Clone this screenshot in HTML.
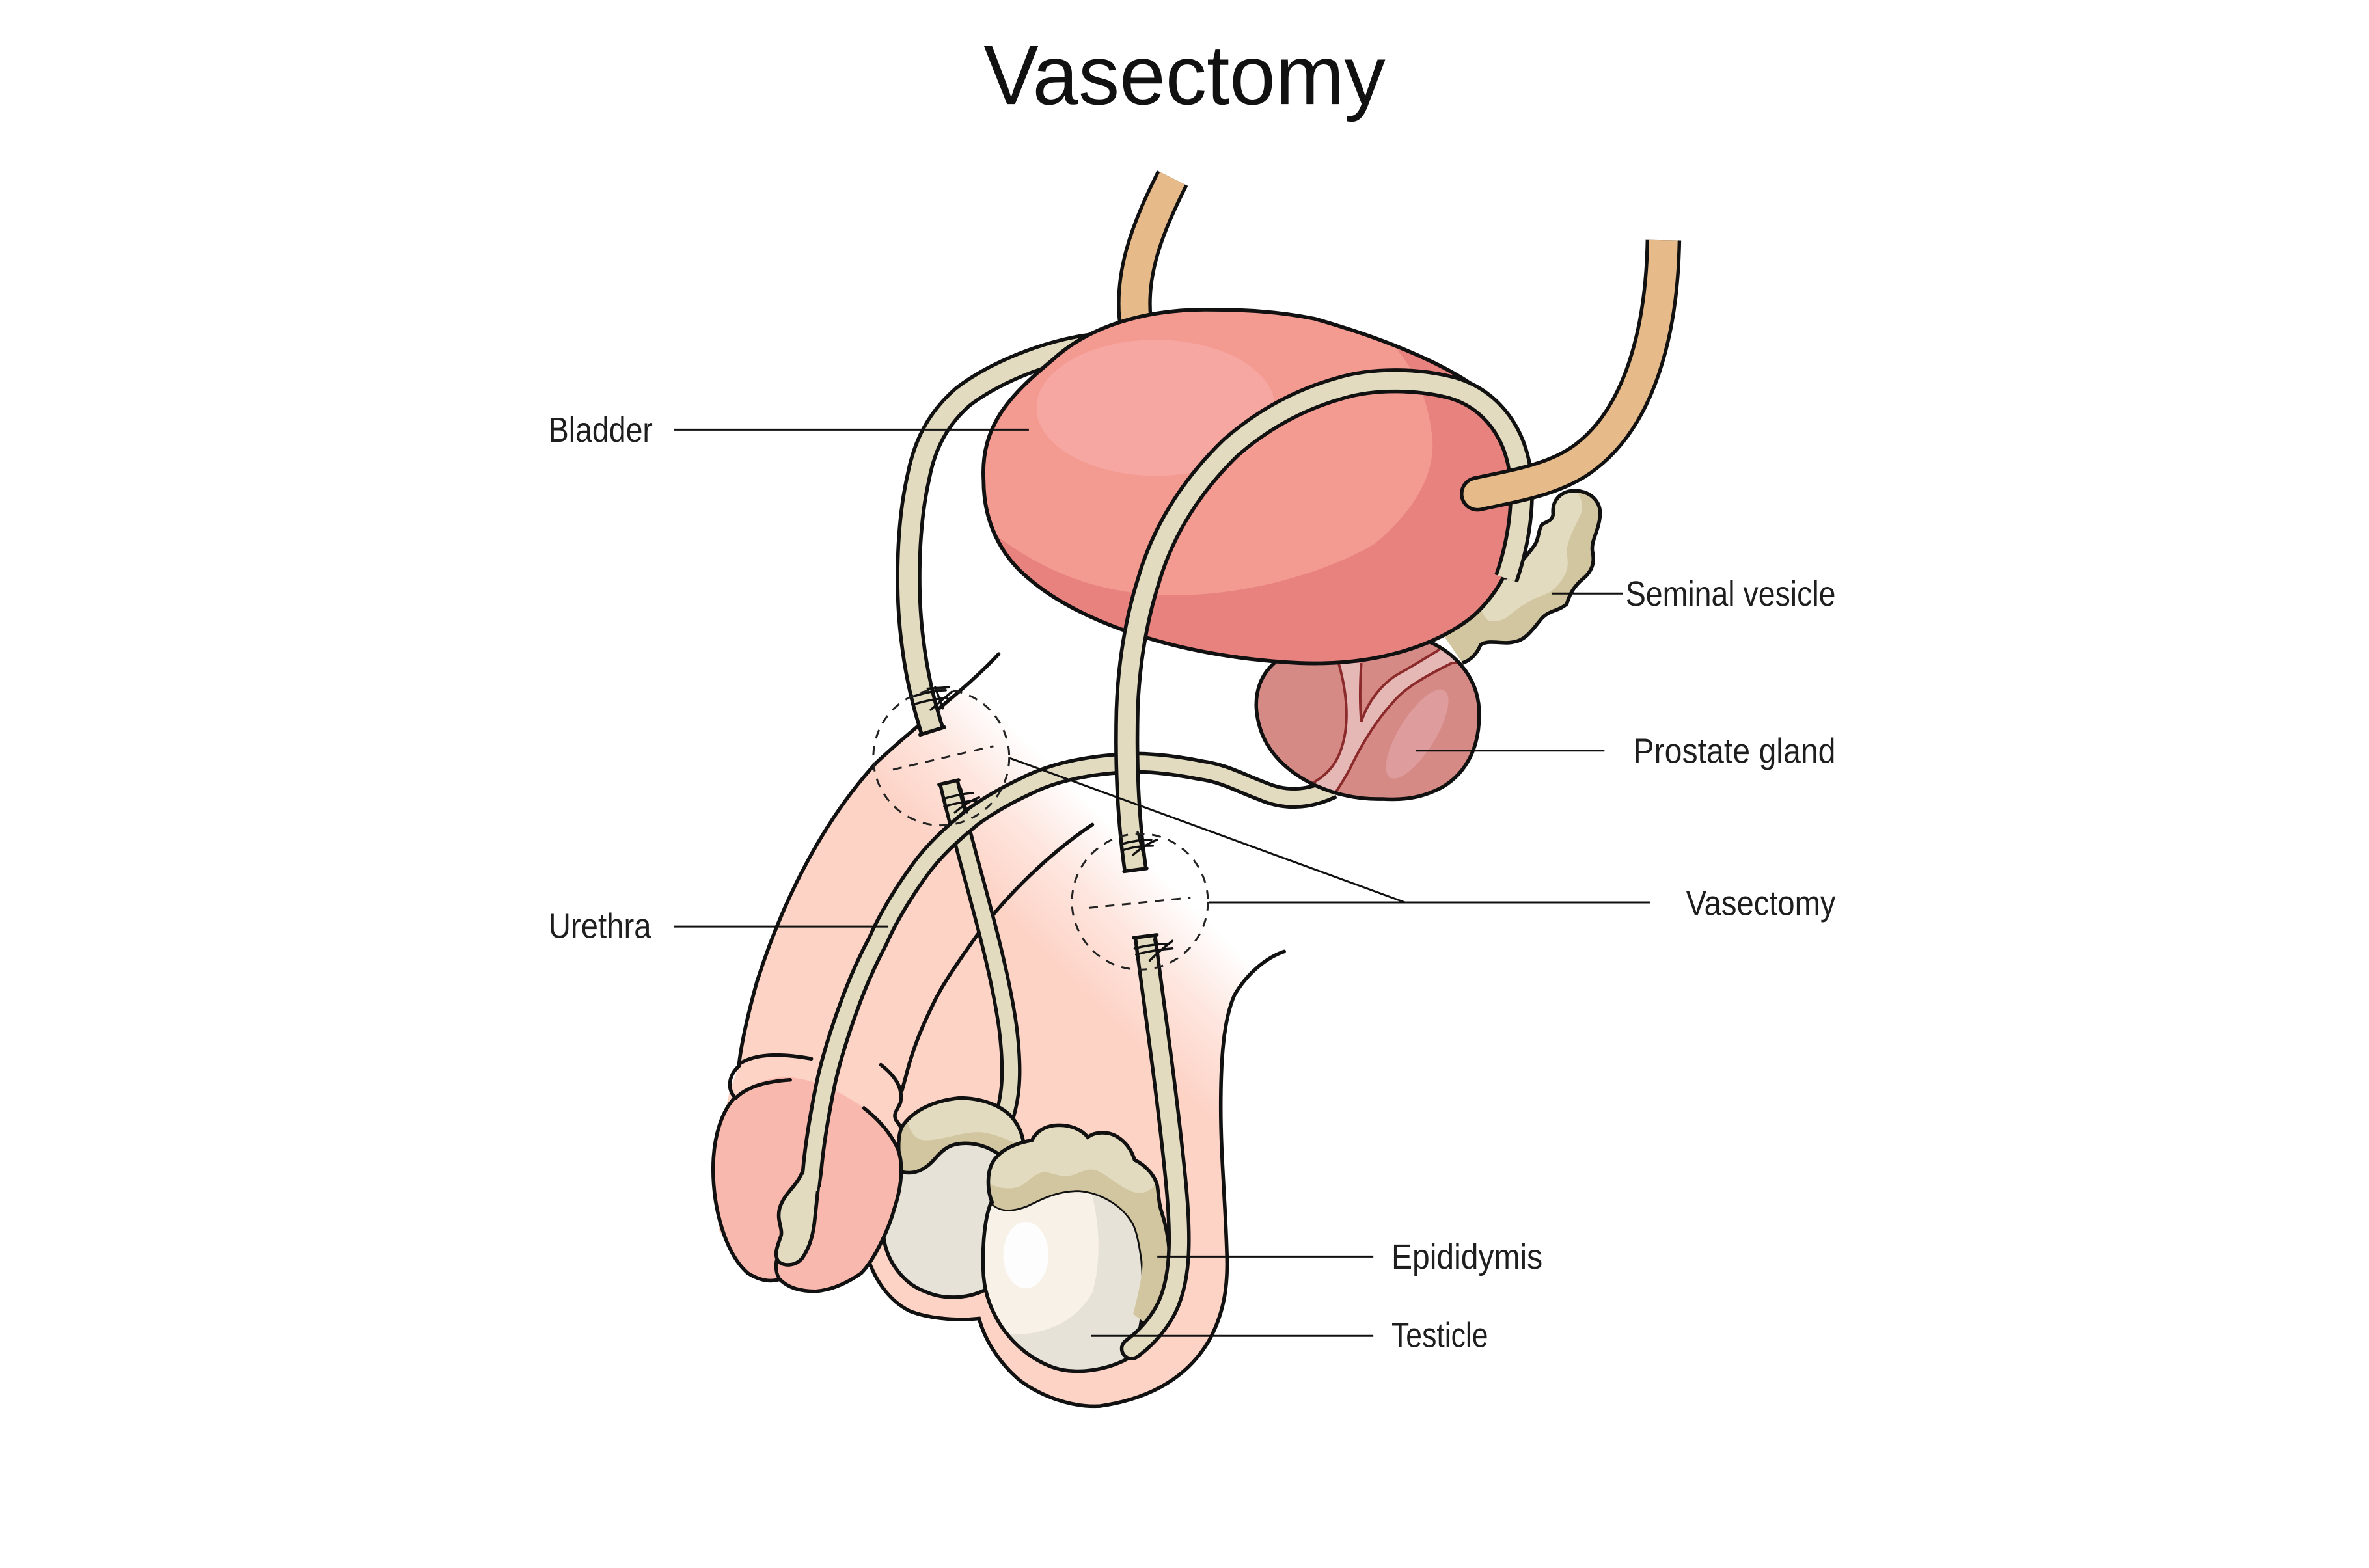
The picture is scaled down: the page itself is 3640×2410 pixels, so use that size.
<!DOCTYPE html>
<html><head><meta charset="utf-8"><style>html,body{margin:0;padding:0;background:#fff}svg{display:block}</style></head>
<body>
<svg xmlns="http://www.w3.org/2000/svg" width="3640" height="2410" viewBox="0 0 1568 1038.2">
<defs>
<linearGradient id="skin" gradientUnits="userSpaceOnUse" x1="700" y1="640" x2="765" y2="575">
<stop offset="0" stop-color="#fdd3c6"/><stop offset="0.55" stop-color="#fdd3c6" stop-opacity="0.55"/><stop offset="1" stop-color="#fdd3c6" stop-opacity="0"/>
</linearGradient>
<clipPath id="bc"><path d="M798,205 C760,205 722,215 697,238 C668,262 649,282 651,318 C651,345 662,368 682,384 C715,412 780,435 860,439 C910,441 950,428 975,408 C995,390 1006,365 1007,335 C1008,305 1002,283 988,267 C975,250 930,228 870,211 C845,206 822,205 798,205 Z"/></clipPath>
<clipPath id="pc"><path d="M941,423 C962,430 978,448 979,470 C980,495 970,512 955,521 C942,528 930,530 915,529 C880,530 845,512 835,485 C826,460 835,440 855,432 C880,422 920,416 941,423 Z"/></clipPath>
<clipPath id="vc"><path d="M996,383 C1005,375 1012,366 1015,362 C1019,357 1018,350 1021,347 C1025,345 1028,344 1028,340 C1027,330 1035,324 1044,325 C1054,326 1060,333 1059,342 C1058,352 1053,358 1054,365 C1056,373 1053,379 1048,383 C1042,388 1039,393 1037,400 C1031,405 1025,404 1020,410 C1015,416 1010,424 1002,425 C995,427 985,423 980,427 C978,432 974,437 968,439 L955,420 L975,395 Z"/></clipPath>
<clipPath id="rtc"><path d="M656,796 C651,808 650,830 651,845 C653,870 670,895 696,905 C712,911 735,907 749,898 C757,880 758,856 756,834 C754,820 752,812 749,808 C742,797 728,789 714,788 C700,788 690,793 680,798 C670,802 662,802 656,796 Z"/></clipPath>
<clipPath id="rec"><path d="M657,797 C653,788 653,775 658,768 C663,761 672,757 683,755 C686,749 692,745 701,745 C709,745 716,748 720,753 C725,749 734,749 740,753 C746,757 749,762 751,768 C757,771 764,777 766,785 C767,792 767,797 769,803 C773,815 775,830 774,845 C773,858 768,868 758,876 L750,870 C754,855 757,840 756,834 C754,820 752,812 749,808 C742,797 728,789 714,788 C700,788 690,793 680,798 C670,802 662,802 657,797 Z"/></clipPath>
<clipPath id="lec"><path d="M597,776 C594,765 594,752 597,746 C603,737 615,729 635,727 C650,727 663,732 670,740 C675,746 677,752 678,760 L668,770 C660,762 650,757 639,757 C630,757 625,760 619,767 C613,774 606,778 597,776 Z"/></clipPath>
</defs>

<text x="651" y="69" font-family="Liberation Sans, sans-serif" font-size="56" fill="#111" textLength="266" lengthAdjust="spacingAndGlyphs">Vasectomy</text>

<path d="M776,118 C760,150 745,185 753,222" fill="none" stroke="#111" stroke-width="23"/>
<path d="M776,118 C760,150 745,185 753,222" fill="none" stroke="#e6bb89" stroke-width="18.4"/>

<path d="M661,433 C640,456 610,477 580,505 C548,540 520,590 501,650 C494,675 490,695 489,706 L483,722 L472,775 L476,815 L495,843 L540,856 L575,830 C580,850 590,862 602,868 C615,873 632,875 648,873 C652,888 662,903 675,914 C690,925 710,932 728,931 C770,925 790,905 800,888 C810,870 813,852 812,829 C811,795 808,765 808,733 C808,700 810,675 817,659 C825,645 838,634 850,630 L880,610 L700,410 Z" fill="url(#skin)"/>
<g fill="none" stroke="#111" stroke-width="2.4" stroke-linecap="round">
<path d="M661,433 C640,456 610,477 580,505 C548,540 520,590 501,650 C494,675 490,695 489,706"/>
<path d="M490,704 C500,698 515,697 537,701"/>
<path d="M489,706 C482,712 481,722 487,727"/>
<path d="M850,630 C838,634 825,645 817,659 C810,675 808,700 808,733 C808,765 811,795 812,829 C813,852 810,870 800,888 C790,905 770,925 728,931 C710,932 690,925 675,914 C662,903 652,888 648,873 C630,875 612,872 602,868 C590,862 580,850 574,832"/>
<path d="M723,546 C690,568 660,600 644,623 C632,640 624,652 619,662 C610,680 604,695 600,711 L597,722"/>
<path d="M583,705 C592,712 598,720 596,730 C594,735 590,738 594,743 C598,748 598,752 597,756"/>
</g>

<g clip-path="url(#vc)">
<rect x="940" y="310" width="130" height="140" fill="#d2c6a1"/>
<path d="M1044,326 C1048,332 1048,337 1046,341 C1042,350 1037,358 1037,366 C1038,372 1038,376 1036,380 C1033,386 1030,389 1026,392 C1020,395 1015,396 1011,399 C1005,402 1001,406 997,409 C992,412 986,412 984,410 C980,405 979,400 980,399 L960,380 L1030,310 Z" fill="#e2dbbf"/>
</g>
<path d="M996,383 C1005,375 1012,366 1015,362 C1019,357 1018,350 1021,347 C1025,345 1028,344 1028,340 C1027,330 1035,324 1044,325 C1054,326 1060,333 1059,342 C1058,352 1053,358 1054,365 C1056,373 1053,379 1048,383 C1042,388 1039,393 1037,400 C1031,405 1025,404 1020,410 C1015,416 1010,424 1002,425 C995,427 985,423 980,427 C978,432 974,437 968,439" fill="none" stroke="#111" stroke-width="2.4"/>

<path d="M730,228 C700,230 660,245 637,263 C620,278 612,295 608,315 C600,350 600,395 604,425 C607,450 612,468 617,484" fill="none" stroke="#111" stroke-width="17"/>
<path d="M730,228 C700,230 660,245 637,263 C620,278 612,295 608,315 C600,350 600,395 604,425 C607,450 612,468 617,484" fill="none" stroke="#e2dbbf" stroke-width="12.2"/>
<path d="M609,486.5 L625,481.5" stroke="#111" stroke-width="2.4" stroke-linecap="round"/>

<path d="M628,518 C640,570 660,630 667,680 C671,712 669,728 663,745" fill="none" stroke="#111" stroke-width="14"/>
<path d="M628,518 C640,570 660,630 667,680 C671,712 669,728 663,745" fill="none" stroke="#e2dbbf" stroke-width="9.4"/>
<path d="M621.5,519.5 L634.5,516.5" stroke="#111" stroke-width="2.4" stroke-linecap="round"/>

<path d="M597,776 C590,790 584,808 585,820 C587,835 598,850 612,855 C625,861 642,860 654,853 L672,765 L650,745 L610,752 Z" fill="#e6e2d7"/>
<path d="M597,776 C590,790 584,808 585,820 C587,835 598,850 612,855 C625,861 642,860 654,853" fill="none" stroke="#111" stroke-width="2.4"/>
<g clip-path="url(#lec)">
<rect x="590" y="720" width="95" height="60" fill="#d2c6a1"/>
<path d="M600,740 C602,750 606,755 613,755 C625,755 640,748 652,750 C662,752 670,756 680,760 L680,715 L590,715 Z" fill="#e2dbbf"/>
</g>
<path d="M597,776 C594,765 594,752 597,746 C603,737 615,729 635,727 C650,727 663,732 670,740 C675,746 677,752 678,760 M668,770 C660,762 650,757 639,757 C630,757 625,760 619,767 C613,774 606,778 597,776" fill="none" stroke="#111" stroke-width="2.4"/>

<g clip-path="url(#rtc)">
<rect x="640" y="780" width="130" height="140" fill="#e6e2d7"/>
<path d="M640,780 L722,788 C728,810 729,835 723,856 C716,868 705,877 690,881 C680,884 670,884 660,882 L640,880 Z" fill="#f8f1e7"/>
<ellipse cx="679" cy="831" rx="15" ry="22" fill="#fdfdfd"/>
</g>
<path d="M656,796 C651,808 650,830 651,845 C653,870 670,895 696,905 C712,911 735,907 749,898 C757,880 758,856 756,834 C754,820 752,812 749,808 C742,797 728,789 714,788 C700,788 690,793 680,798 C670,802 662,802 656,796 Z" fill="none" stroke="#111" stroke-width="2.4"/>
<g clip-path="url(#rec)">
<rect x="645" y="740" width="135" height="140" fill="#d2c6a1"/>
<path d="M655,784 C662,787 670,788 676,785 C682,781 686,776 692,776 C698,777 703,780 710,778 C716,776 720,773 726,775 C735,779 745,790 755,790 C762,789 766,784 766,780 L768,735 L645,735 Z" fill="#e2dbbf"/>
</g>
<path d="M657,797 C653,788 653,775 658,768 C663,761 672,757 683,755 C686,749 692,745 701,745 C709,745 716,748 720,753 C725,749 734,749 740,753 C746,757 749,762 751,768 C757,771 764,777 766,785 C767,792 767,797 769,803 C773,815 775,830 774,845 C773,858 768,868 758,876" fill="none" stroke="#111" stroke-width="2.4"/>

<path d="M487,726 C478,735 472,752 472,774 C472,800 480,830 495,843 C503,848 510,849 516,847 C522,853 530,855 540,855 C552,854 563,848 570,843 C578,835 588,815 592,800 C597,785 598,770 594,760 C588,748 580,740 571,733 C555,722 540,715 521,713 C505,714 495,719 487,726 Z" fill="#f9b8ad"/>
<path d="M487,726 C478,735 472,752 472,774 C472,800 480,830 495,843 C503,848 510,849 516,847 C522,853 530,855 540,855 C552,854 563,848 570,843 C578,835 588,815 592,800 C597,785 598,770 594,760 C588,748 580,740 571,733" fill="none" stroke="#111" stroke-width="2.4"/>
<path d="M487,727 C495,719 508,716 523,715" fill="none" stroke="#111" stroke-width="2.4" stroke-linecap="round"/>
<path d="M514,834 C513,840 514,844 516,847" fill="none" stroke="#111" stroke-width="2.2"/>

<path d="M882,522 C865,530 850,530 836,524 C820,518 810,512 795,510 C780,507 765,505 750,505 C725,506 700,510 680,520 C665,527 655,533 645,540 C630,552 618,563 608,577 C598,591 588,607 581,623 C573,638 567,652 562,666 C555,685 549,705 546,720 C542,740 539,758 537.5,775 L536,785" fill="none" stroke="#111" stroke-width="14.5"/>
<path d="M531,776 C527,786 519,790 516,800 C514,808 518,813 517,818 C515,824 512,830 515,835 C519,839 527,838 531,833 C536,826 538,818 539,810 C540,800 541,792 542,782 Z" fill="#e2dbbf" stroke="#111" stroke-width="2.4"/>
<path d="M882,522 C865,530 850,530 836,524 C820,518 810,512 795,510 C780,507 765,505 750,505 C725,506 700,510 680,520 C665,527 655,533 645,540 C630,552 618,563 608,577 C598,591 588,607 581,623 C573,638 567,652 562,666 C555,685 549,705 546,720 C542,740 539,758 537.5,775 L536,788" fill="none" stroke="#e2dbbf" stroke-width="9.7"/>

<g clip-path="url(#pc)">
<rect x="820" y="410" width="170" height="130" fill="#d58a86"/>
<ellipse cx="938" cy="486" rx="12" ry="34" transform="rotate(32 938 486)" fill="#de9c9c"/>
<path d="M886,439 C892,460 893,480 888,495 C884,508 876,515 866,520 L883,526 C886,522 889,517 893,510 C900,495 910,478 922,465 C930,455 945,447 961,439 L967,439 L953,430 C946,434 937,440 926,446 C915,452 905,465 901,478 C900,467 900,455 901,439 Z" fill="#e5b8b6"/>
<g fill="none" stroke="#8b2a2a" stroke-width="1.7">
<path d="M886,439 C892,460 893,480 888,495 C884,508 876,515 866,520"/>
<path d="M967,439 L961,439 C945,447 930,455 922,465 C910,478 900,495 893,510 C889,517 886,522 883,526"/>
<path d="M901,439 C900,455 900,467 901,478 C905,465 915,452 926,446 C937,440 946,434 953,430"/>
</g>
</g>
<path d="M941,423 C962,430 978,448 979,470 C980,495 970,512 955,521 C942,528 930,530 915,529 C880,530 845,512 835,485 C826,460 835,440 855,432 C880,422 920,416 941,423 Z" fill="none" stroke="#111" stroke-width="2.4"/>

<g clip-path="url(#bc)">
<rect x="640" y="195" width="380" height="260" fill="#f39a91"/>
<ellipse cx="765" cy="270" rx="79" ry="45" fill="#f7a7a2"/>
<path d="M660,355 C700,385 740,395 783,394 C830,393 880,378 910,360 C940,335 950,310 948,290 C946,270 940,250 925,232 L1030,220 L1030,470 L640,470 Z" fill="#e8827f"/>
</g>
<path d="M798,205 C760,205 722,215 697,238 C668,262 649,282 651,318 C651,345 662,368 682,384 C715,412 780,435 860,439 C910,441 950,428 975,408 C995,390 1006,365 1007,335 C1008,305 1002,283 988,267 C975,250 930,228 870,211 C845,206 822,205 798,205 Z" fill="none" stroke="#111" stroke-width="2.5"/>

<path d="M997,383 C1005,360 1010,330 1005,306 C1000,283 985,264 962,257 C940,251 910,250 887,257 C862,264 838,276 815,296 C790,320 770,350 760,385 C752,410 747,440 746,470 C745,510 747,545 751.5,576" fill="none" stroke="#111" stroke-width="16.5"/>
<path d="M997,383 C1005,360 1010,330 1005,306 C1000,283 985,264 962,257 C940,251 910,250 887,257 C862,264 838,276 815,296 C790,320 770,350 760,385 C752,410 747,440 746,470 C745,510 747,545 751.5,576" fill="none" stroke="#e2dbbf" stroke-width="11.7"/>
<path d="M744,577 L759,575" stroke="#111" stroke-width="2.4" stroke-linecap="round"/>

<path d="M1101,159 C1100,220 1085,275 1050,302 C1030,318 1000,322 978,327" fill="none" stroke="#111" stroke-width="23.5"/>
<circle cx="978" cy="327" r="11.75" fill="#111"/>
<path d="M1101,159 C1100,220 1085,275 1050,302 C1030,318 1000,322 978,327" fill="none" stroke="#e6bb89" stroke-width="18.8"/>
<circle cx="978" cy="327" r="9.4" fill="#e6bb89"/>

<path d="M758,620 C763,660 772,720 778,780 C782,820 782,850 770,870 C764,880 756,888 749,893" fill="none" stroke="#111" stroke-width="15.5"/>
<circle cx="749" cy="893" r="7.75" fill="#111"/>
<path d="M758,620 C763,660 772,720 778,780 C782,820 782,850 770,870 C764,880 756,888 749,893" fill="none" stroke="#e2dbbf" stroke-width="10.8"/>
<circle cx="749" cy="893" r="5.4" fill="#e2dbbf"/>
<path d="M750.3,621 L765.7,619" stroke="#111" stroke-width="2.4" stroke-linecap="round"/>

<g fill="none" stroke="#111" stroke-width="1.5" stroke-linecap="round">
<path d="M605,461 Q615,457.5 626,457 M606,466 Q616,463 627,462 M619,455 L624,469 M616,470 Q624,463 630,458 M614,456 L628,455"/>
<path d="M624,529 Q634,526 644,525 M625,534 Q635,531 646,530 M636,522 L640,538 M632,538 Q640,531 648,528"/>
<path d="M742,559 Q752,556 762,556 M743,563 Q752,560 763,560 M753,551 L757,567 M750,566 Q758,559 766,556"/>
<path d="M751,628 Q762,625 773,625 M752,632 Q763,629 776,628 M764,622 L767,637 M761,636 Q768,629 776,623"/>
</g>

<g fill="none" stroke="#222" stroke-width="1.3" stroke-dasharray="6 5">
<circle cx="623" cy="501.5" r="45"/>
<path d="M591,509.6 L657.5,494"/>
<circle cx="754.5" cy="597" r="45"/>
<path d="M720.7,601.1 L788,594.3"/>
</g>

<g stroke="#111" stroke-width="1.3" fill="none">
<path d="M446,284.5 L681,284.5"/>
<path d="M1027,393 L1074,393"/>
<path d="M937,497 L1062,497"/>
<path d="M800,597.5 L1092,597.5 M668.5,502 L930,597.5"/>
<path d="M446,613.5 L588,613.5"/>
<path d="M766,832 L909,832"/>
<path d="M722,884.5 L909,884.5"/>
</g>

<g font-family="Liberation Sans, sans-serif" font-size="23" fill="#1e1e1e">
<text x="363" y="292.6" textLength="69" lengthAdjust="spacingAndGlyphs">Bladder</text>
<text x="1076" y="401" textLength="139" lengthAdjust="spacingAndGlyphs">Seminal vesicle</text>
<text x="1081" y="505" textLength="134" lengthAdjust="spacingAndGlyphs">Prostate gland</text>
<text x="1116" y="606" textLength="99" lengthAdjust="spacingAndGlyphs">Vasectomy</text>
<text x="363" y="621" textLength="68" lengthAdjust="spacingAndGlyphs">Urethra</text>
<text x="921" y="840" textLength="100" lengthAdjust="spacingAndGlyphs">Epididymis</text>
<text x="921" y="892" textLength="64" lengthAdjust="spacingAndGlyphs">Testicle</text>
</g>
</svg>
</body></html>
